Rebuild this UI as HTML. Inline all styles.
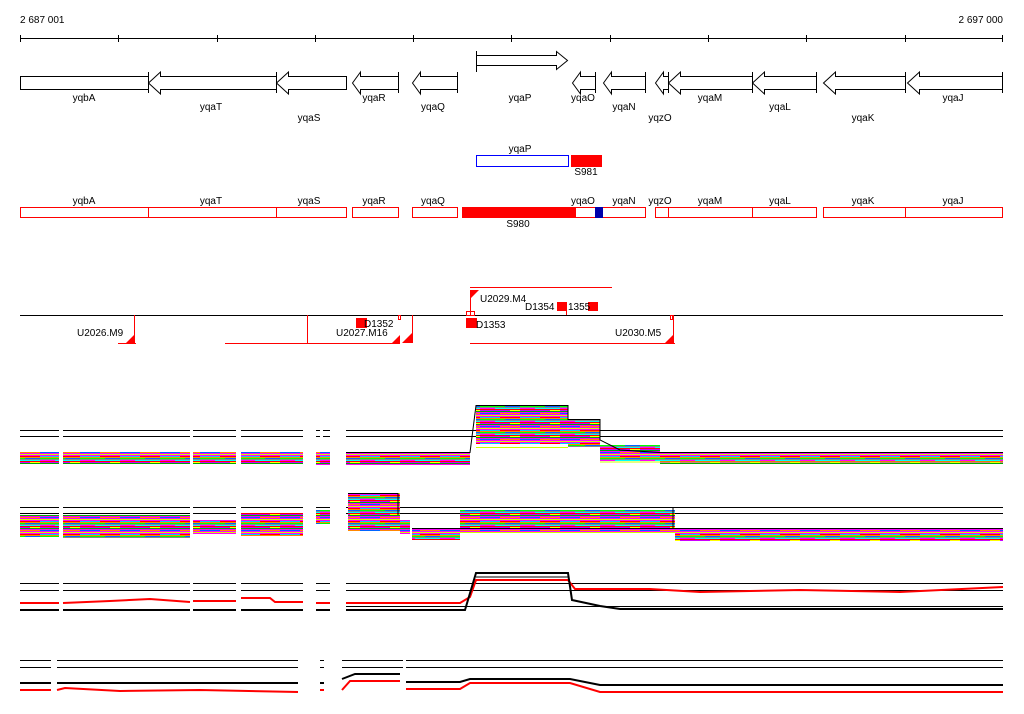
<!DOCTYPE html>
<html><head><style>
body{margin:0;background:#fff;width:1024px;height:714px;overflow:hidden}
svg{display:block}
text{font-family:"Liberation Sans",sans-serif;font-size:10px;fill:#000}
</style></head><body>
<svg width="1024" height="714" viewBox="0 0 1024 714" xmlns="http://www.w3.org/2000/svg">
<defs>
<pattern id="st" patternUnits="userSpaceOnUse" width="40" height="13">
<rect width="40" height="13" fill="#fff"/>
<rect y="0" width="40" height="1" fill="#f0f"/>
<rect y="1" width="20" height="1" fill="#0cf"/><rect x="20" y="1" width="20" height="1" fill="#f00"/>
<rect y="2" width="40" height="1" fill="#f80"/>
<rect y="3" width="25" height="1" fill="#0f0"/><rect x="25" y="3" width="15" height="1" fill="#06f"/>
<rect y="4" width="40" height="1" fill="#888"/>
<rect y="5" width="15" height="1" fill="#f0f"/><rect x="15" y="5" width="25" height="1" fill="#0ff"/>
<rect y="6" width="40" height="1" fill="#f00"/>
<rect y="7" width="30" height="1" fill="#c0f"/><rect x="30" y="7" width="10" height="1" fill="#ff0"/>
<rect y="8" width="40" height="1" fill="#0a0"/>
<rect y="9" width="40" height="1" fill="#f0f"/>
<rect y="10" width="20" height="1" fill="#06f"/><rect x="20" y="10" width="20" height="1" fill="#f80"/>
<rect y="11" width="40" height="1" fill="#f0f"/>
<rect y="12" width="40" height="1" fill="#ccff00"/>
</pattern>
</defs>
<text x="20" y="23">2 687 001</text>
<text x="1003" y="23" text-anchor="end">2 697 000</text>
<g stroke="#000" stroke-width="1" fill="none">
<line x1="20" y1="38.5" x2="1003" y2="38.5"/>
<path d="M20.5 35v7M118.5 35v7M217.5 35v7M315.5 35v7M413.5 35v7M511.5 35v7M610.5 35v7M708.5 35v7M806.5 35v7M905.5 35v7M1002.5 35v7"/>
<rect x="20.5" y="76.5" width="128" height="13"/>
<path d="M148.5 72v21M148.5 83l12-11v4.5h116v13h-116v4.5z"/>
<path d="M276.5 72v21M276.5 83l12-11v4.5h58v13h-58v4.5z"/>
<path d="M398.5 72v21M352.5 83l8-11v4.5h38v13h-38v4.5z"/>
<path d="M457.5 72v21M412.5 83l8-11v4.5h37v13h-37v4.5z"/>
<path d="M476.5 51v21M476.5 55.5h80v-4l11 9l-11 9v-4h-80"/>
<path d="M595.5 72v21M572.5 83l8-11v4.5h15v13h-15v4.5z"/>
<path d="M645.5 72v21M603.5 83l8-11v4.5h34v13h-34v4.5z"/>
<path d="M668.5 72v21M655.5 83l8-11v4.5h5v13h-5v4.5z"/>
<path d="M752.5 72v21M668.5 83l12-11v4.5h72v13h-72v4.5z"/>
<path d="M816.5 72v21M752.5 83l12-11v4.5h52v13h-52v4.5z"/>
<path d="M905.5 72v21M823.5 83l12-11v4.5h70v13h-70v4.5z"/>
<path d="M1002.5 72v21M907.5 83l12-11v4.5h83v13h-83v4.5z"/>
</g>
<g text-anchor="middle">
<text x="84" y="101">yqbA</text><text x="211" y="110">yqaT</text><text x="309" y="121">yqaS</text>
<text x="374" y="101">yqaR</text><text x="433" y="110">yqaQ</text><text x="520" y="101">yqaP</text>
<text x="583" y="101">yqaO</text><text x="624" y="110">yqaN</text><text x="660" y="121">yqzO</text>
<text x="710" y="101">yqaM</text><text x="780" y="110">yqaL</text><text x="863" y="121">yqaK</text>
<text x="953" y="101">yqaJ</text>
<text x="520" y="152">yqaP</text><text x="586" y="175">S981</text>
<text x="84" y="204">yqbA</text><text x="211" y="204">yqaT</text><text x="309" y="204">yqaS</text>
<text x="374" y="204">yqaR</text><text x="433" y="204">yqaQ</text><text x="583" y="204">yqaO</text>
<text x="624" y="204">yqaN</text><text x="660" y="204">yqzO</text><text x="710" y="204">yqaM</text>
<text x="780" y="204">yqaL</text><text x="863" y="204">yqaK</text><text x="953" y="204">yqaJ</text>
<text x="518" y="227">S980</text>
</g>
<rect x="476.5" y="155.5" width="92" height="11" fill="none" stroke="#00f"/>
<rect x="571" y="155" width="31" height="12" fill="#f00"/>
<g fill="none" stroke="#f00">
<rect x="20.5" y="207.5" width="128" height="10"/><rect x="148.5" y="207.5" width="128" height="10"/>
<rect x="276.5" y="207.5" width="70" height="10"/><rect x="352.5" y="207.5" width="46" height="10"/>
<rect x="412.5" y="207.5" width="45" height="10"/><rect x="575.5" y="207.5" width="70" height="10"/>
<rect x="655.5" y="207.5" width="13" height="10"/><rect x="668.5" y="207.5" width="84" height="10"/>
<rect x="752.5" y="207.5" width="64" height="10"/><rect x="823.5" y="207.5" width="82" height="10"/>
<rect x="905.5" y="207.5" width="97" height="10"/>
</g>
<rect x="462" y="207" width="114" height="11" fill="#f00"/>
<rect x="595" y="207" width="8" height="11" fill="#00a"/>
<line x1="20" y1="315.5" x2="1003" y2="315.5" stroke="#000"/>
<g stroke="#f00" fill="none">
<path d="M470 287.5h142M118 343.5h18M225 343.5h175M470 343.5h205"/>
<path d="M134.5 315v28M307.5 315v28M412.5 315v28M470.5 290v25M566.5 310v5M673.5 315v28"/>
<rect x="398.5" y="315.5" width="2" height="4"/><rect x="670.5" y="315.5" width="2" height="4"/>
<rect x="466.5" y="311.5" width="8" height="4"/>
</g>
<g fill="#f00">
<path d="M126 343l8-8v8zM392 343l8-8v8zM402 343l10-10v10zM665 343l8-8v8zM471 290v8l8-8z"/>
<rect x="356" y="318" width="11" height="10"/><rect x="466" y="318" width="11" height="10"/>
<rect x="557" y="302" width="10" height="9"/><rect x="588" y="302" width="10" height="9"/>
</g>
<text x="480" y="302">U2029.M4</text><text x="525" y="310">D1354</text><text x="568" y="310">1355</text>
<text x="364" y="327">D1352</text><text x="336" y="336">U2027.M16</text><text x="476" y="328">D1353</text>
<text x="77" y="336">U2026.M9</text><text x="615" y="336">U2030.M5</text>
<g stroke="#000"><path d="M20 430.5H59M63 430.5H190M193 430.5H236M241 430.5H303M316 430.5H320M323 430.5H330M346 430.5H1003M20 436.5H59M63 436.5H190M193 436.5H236M241 436.5H303M316 436.5H320M323 436.5H330M346 436.5H1003"/></g>
<g fill="url(#st)">
<rect x="20" y="452" width="39" height="12"/><rect x="63" y="452" width="127" height="12"/><rect x="193" y="452" width="43" height="12"/><rect x="241" y="452" width="62" height="12"/><rect x="316" y="452" width="14" height="13"/>
<rect x="346" y="452" width="124" height="13"/>
<rect x="476" y="405" width="92" height="39"/><rect x="568" y="419" width="32" height="28"/>
<rect x="600" y="445" width="60" height="16"/><rect x="660" y="452" width="343" height="12"/>
</g>
<path d="M346 452.5H470L476 405.5H568V419.5H600V440L620 450L660 452.5H1003" stroke="#000" fill="none"/>
<path d="M476 447.5H568M600 462H1003" stroke="#ccff00" fill="none"/>
<g stroke="#000"><path d="M20 507.5H59M63 507.5H190M193 507.5H236M241 507.5H303M316 507.5H330M346 507.5H1003M20 513.5H59M63 513.5H190M193 513.5H236M241 513.5H303M316 513.5H330M346 513.5H1003"/></g>
<g fill="url(#st)">
<rect x="20" y="515" width="39" height="22"/><rect x="63" y="515" width="127" height="23"/>
<rect x="193" y="520" width="43" height="14"/><rect x="241" y="513" width="62" height="23"/><rect x="316" y="510" width="14" height="14"/>
<rect x="348" y="493" width="52" height="38"/>
<rect x="400" y="520" width="10" height="14"/><rect x="412" y="528" width="48" height="12"/>
<rect x="460" y="510" width="215" height="23"/><rect x="675" y="528" width="328" height="13"/>
</g>
<path d="M348 493.5H398V515M412 528.5H1003M470 507.5H673V528" stroke="#000" fill="none"/>
<g stroke="#000"><path d="M20 583.5H59M63 583.5H190M193 583.5H236M241 583.5H303M316 583.5H330M346 583.5H1003M20 590.5H59M63 590.5H190M193 590.5H236M241 590.5H303M316 590.5H330M346 590.5H1003M346 606.5H1003"/></g>
<g fill="none" stroke-width="2">
<path d="M20 603H59M63 603L110 601L150 599L190 602M193 601H236M241 598H270L275 602H303M316 603H330M346 603H460L470 597L476 580H568L575 589H650L700 592L800 590L900 592L1003 587" stroke="#f00"/>
<path d="M20 610H59M63 610H190M193 610H236M241 610H303M316 610H330M346 610H465L476 573H568L572 600L600 606L620 609H1003" stroke="#000"/>
</g>
<path d="M476 577H568" stroke="#000"/>
<g stroke="#000"><path d="M20 660.5H51M57 660.5H298M320 660.5H324M342 660.5H403M406 660.5H1003M20 667.5H51M57 667.5H298M320 667.5H324M342 667.5H403M406 667.5H1003"/></g>
<g fill="none" stroke-width="2">
<path d="M20 683H51M57 683H298M320 683H324M342 679L355 674H400M406 682H460L470 679H570L600 685H1003" stroke="#000"/>
<path d="M20 690H51M57 690L65 688L120 691L200 690L298 692M320 690H324M342 690L350 681H400M406 689H460L470 683H570L600 692H1003" stroke="#f00"/>
</g>
</svg>
</body></html>
